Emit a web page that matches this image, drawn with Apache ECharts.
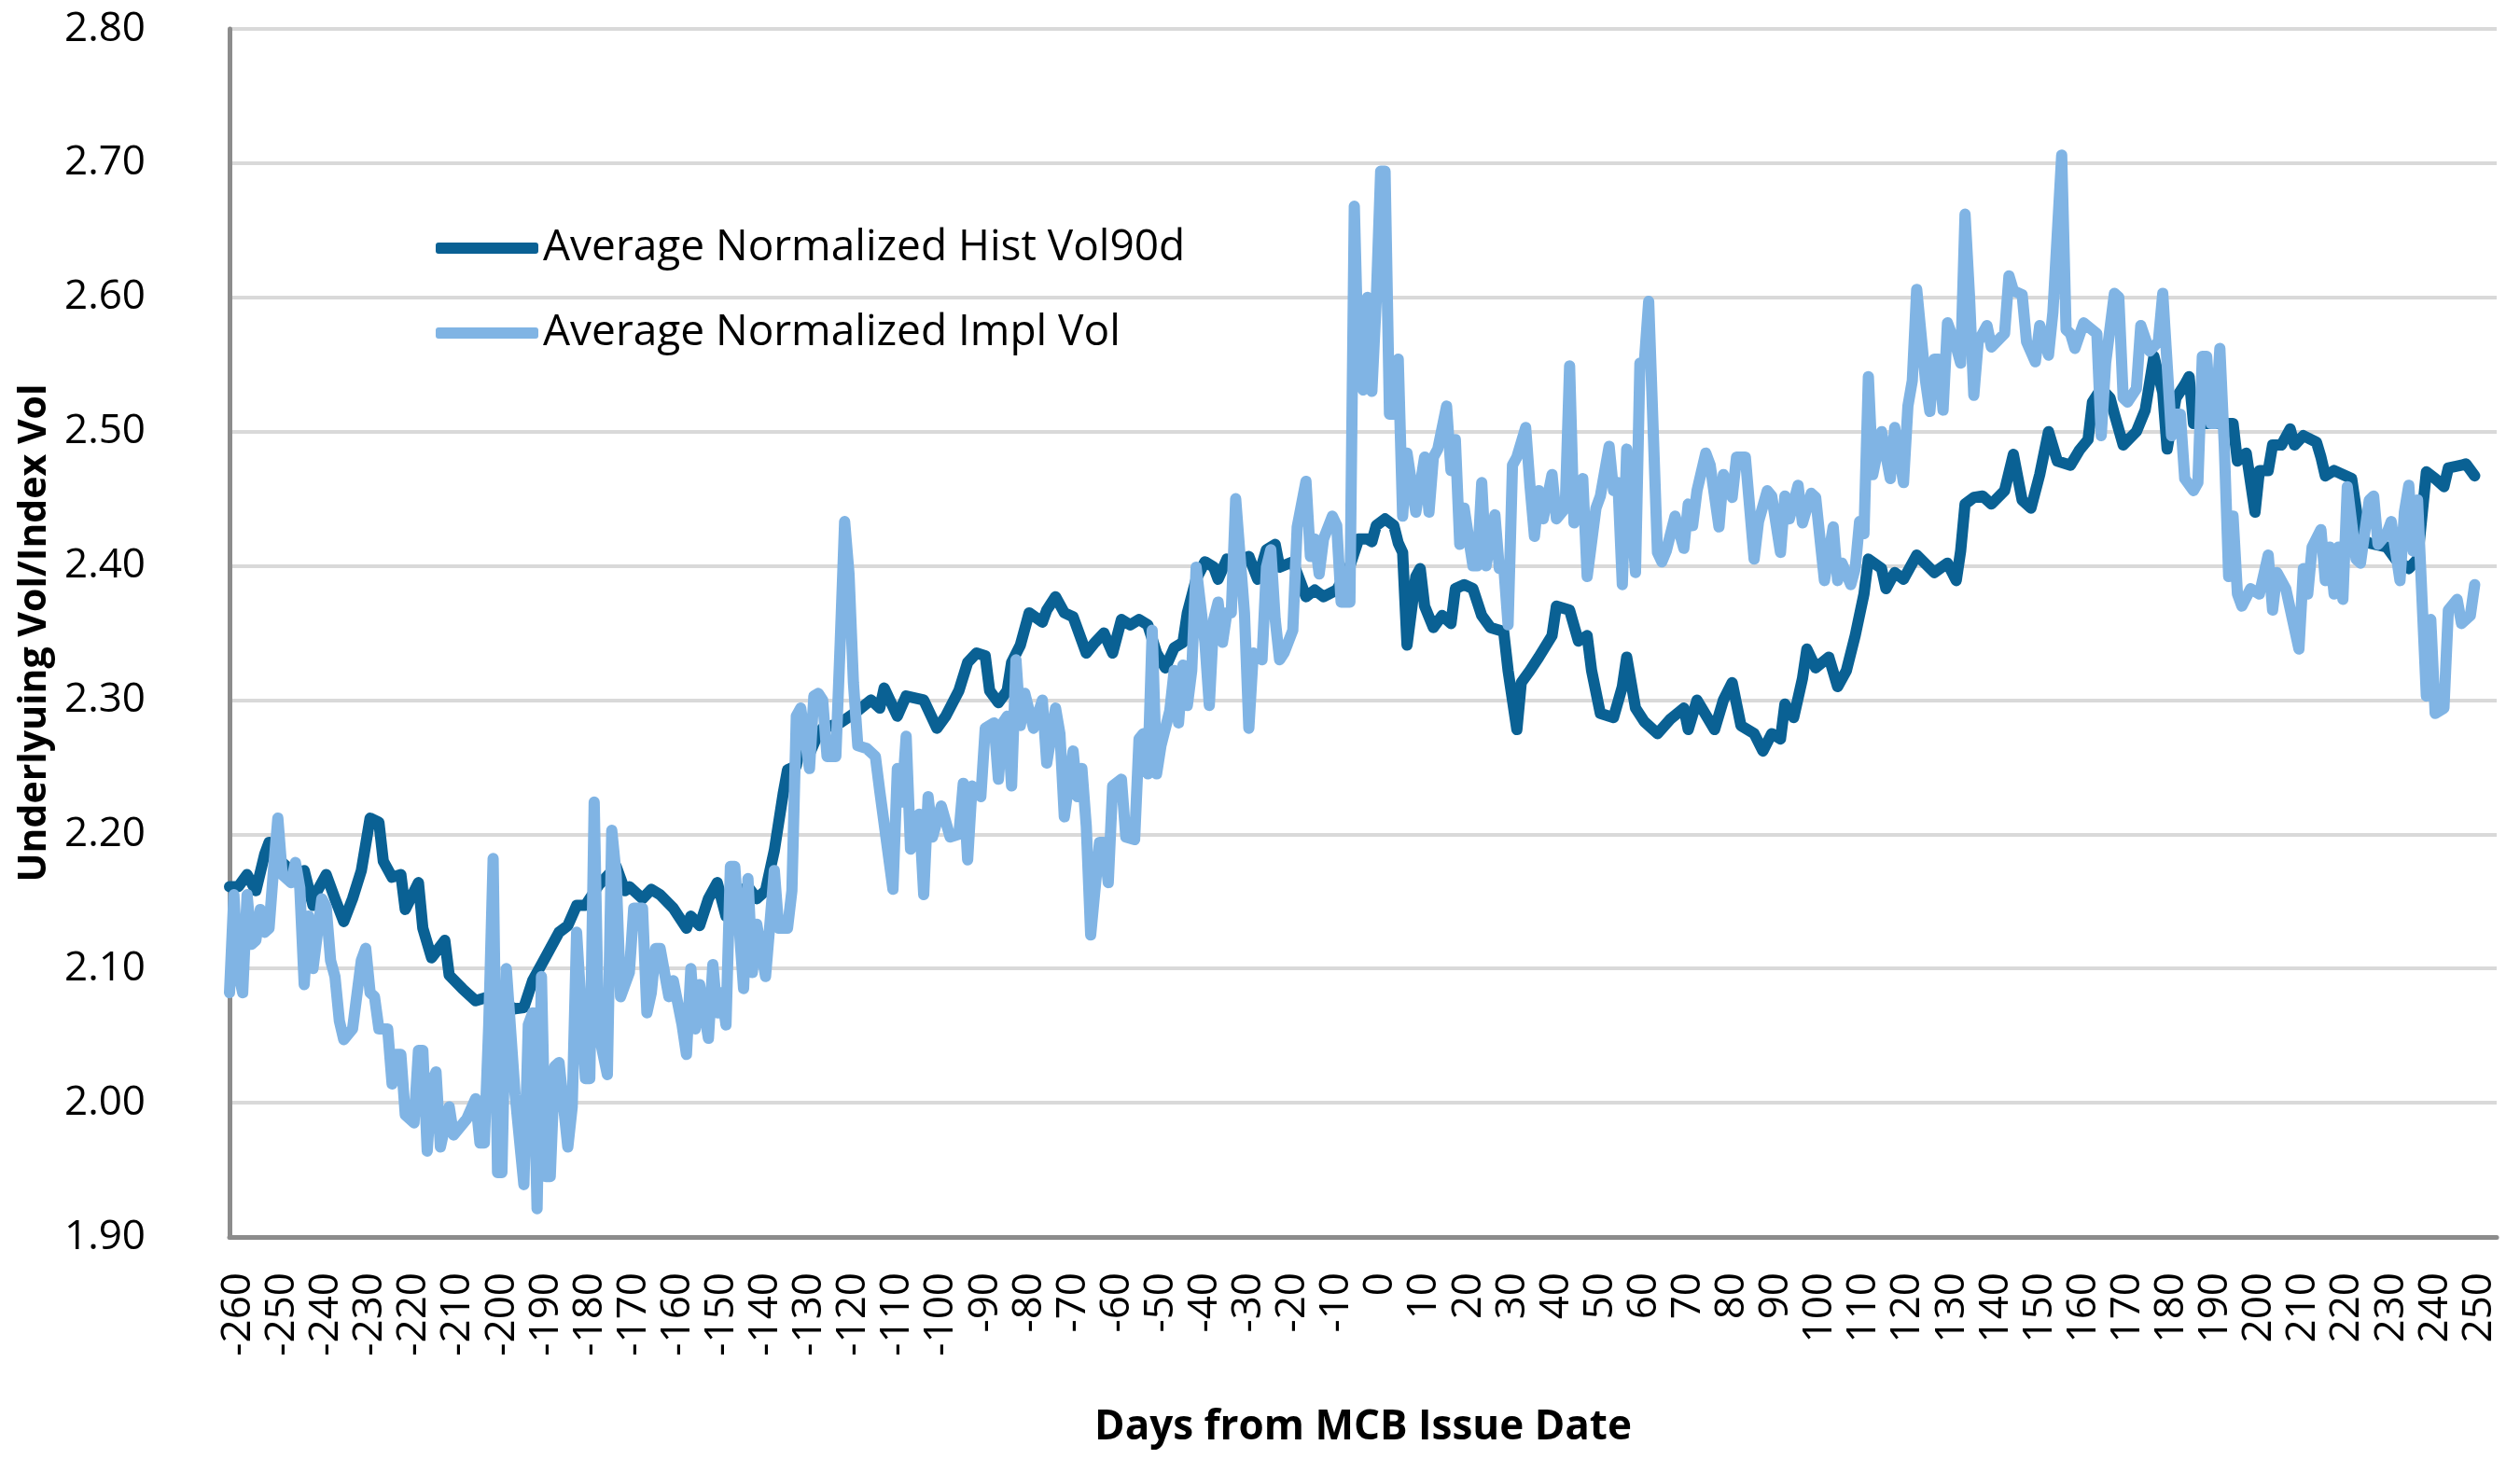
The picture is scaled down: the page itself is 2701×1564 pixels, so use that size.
<!DOCTYPE html>
<html>
<head>
<meta charset="utf-8">
<script src="https://cdn.jsdelivr.net/npm/echarts@6/dist/echarts.min.js"></script>
<style>
html,body{margin:0;padding:0;background:#fff;}
#chart{width:2701px;height:1564px;}
</style>
</head>
<body>
<div id="chart"></div>
<script>
// Days from MCB issue date and values
var histDays = [-262,-260,-258,-256,-254,-253,-250,-247,-245,-243,-242,-240,-238,-236,-234,-232,-230,-228,-227,-225,-223,-222,-219,-218,-216,-213,-212,-209,-206,-203,-197,-195,-193,-190,-187,-185,-183,-181,-178,-174,-172,-171,-168,-166,-164,-161,-158,-157,-155,-153,-151,-149,-147,-144,-142,-140,-138,-136,-135,-133,-132,-130,-128,-127,-123,-119,-116,-114,-113,-110,-108,-104,-101,-99,-96,-94,-92,-90,-89,-87,-85,-84,-82,-80,-77,-76,-74,-72,-70,-67,-65,-63,-61,-59,-57,-55,-53,-51,-49,-47,-45,-44,-42,-40,-38,-37,-35,-32,-30,-28,-26,-24,-23,-20,-17,-15,-13,-10,-7,-5,-3,-2,-1,1,3,4,5,6,8,9,10,12,14,16,17,19,21,23,25,28,29,31,32,34,36,39,40,43,45,47,48,50,53,55,56,58,60,63,66,69,70,72,76,78,80,82,85,87,89,91,92,94,96,97,99,102,104,106,108,110,111,114,115,117,119,122,126,129,131,132,133,135,137,139,142,144,146,148,150,152,154,157,159,161,162,164,166,167,169,172,174,176,178,179,181,183,184,185,188,191,194,195,197,199,200,202,203,205,207,208,210,213,214,215,217,219,221,223,225,229,231,234,236,238,240,242,243,246,247,249];
var histVals = [2.161,2.161,2.170,2.158,2.185,2.194,2.179,2.170,2.173,2.147,2.158,2.170,2.152,2.135,2.152,2.173,2.212,2.209,2.180,2.168,2.170,2.144,2.164,2.130,2.108,2.121,2.095,2.085,2.076,2.079,2.070,2.071,2.091,2.109,2.127,2.132,2.147,2.147,2.162,2.176,2.158,2.161,2.152,2.159,2.155,2.145,2.130,2.139,2.132,2.152,2.164,2.139,2.155,2.161,2.152,2.158,2.188,2.230,2.248,2.251,2.270,2.260,2.275,2.279,2.283,2.292,2.300,2.294,2.309,2.288,2.303,2.300,2.279,2.288,2.307,2.328,2.335,2.333,2.307,2.298,2.307,2.328,2.341,2.365,2.358,2.367,2.377,2.365,2.362,2.335,2.343,2.350,2.335,2.360,2.356,2.360,2.356,2.335,2.324,2.339,2.343,2.365,2.390,2.403,2.399,2.390,2.405,2.403,2.407,2.390,2.412,2.416,2.399,2.403,2.377,2.382,2.377,2.382,2.400,2.420,2.420,2.418,2.430,2.435,2.430,2.417,2.410,2.341,2.392,2.398,2.370,2.354,2.363,2.357,2.383,2.386,2.383,2.363,2.354,2.351,2.322,2.278,2.313,2.322,2.332,2.348,2.370,2.367,2.344,2.348,2.322,2.290,2.287,2.310,2.332,2.294,2.284,2.275,2.286,2.294,2.278,2.300,2.278,2.300,2.313,2.281,2.275,2.262,2.275,2.271,2.297,2.287,2.316,2.338,2.324,2.332,2.310,2.322,2.348,2.379,2.405,2.398,2.383,2.395,2.390,2.408,2.395,2.402,2.389,2.411,2.446,2.451,2.452,2.446,2.456,2.483,2.449,2.443,2.468,2.500,2.478,2.475,2.486,2.494,2.522,2.532,2.525,2.513,2.490,2.500,2.516,2.556,2.529,2.487,2.525,2.535,2.541,2.506,2.506,2.506,2.506,2.478,2.484,2.440,2.471,2.471,2.490,2.490,2.502,2.490,2.497,2.492,2.481,2.467,2.471,2.468,2.465,2.421,2.417,2.414,2.405,2.398,2.405,2.470,2.465,2.459,2.473,2.475,2.476,2.467];

var implDays = [-262,-261,-260,-259,-258,-257,-256,-255,-254,-253,-252,-251,-250,-248,-247,-246,-245,-244,-243,-241,-240,-239,-238,-237,-236,-234,-232,-231,-230,-229,-228,-226,-225,-224,-223,-222,-220,-219,-218,-217,-216,-215,-214,-212,-211,-210,-208,-206,-205,-204,-203,-202,-201,-200,-199,-197,-195,-194,-193,-192,-191,-190,-189,-188,-187,-185,-184,-183,-181,-180,-179,-178,-176,-175,-174,-173,-171,-170,-168,-167,-166,-165,-164,-162,-161,-159,-158,-157,-156,-155,-153,-152,-151,-150,-149,-148,-147,-145,-144,-143,-142,-140,-138,-137,-135,-134,-133,-132,-130,-129,-128,-127,-126,-124,-123,-122,-121,-120,-119,-117,-115,-114,-111,-110,-109,-108,-107,-105,-104,-103,-102,-100,-98,-96,-95,-94,-93,-91,-90,-88,-87,-86,-85,-84,-83,-82,-81,-79,-77,-76,-74,-73,-72,-70,-69,-68,-67,-66,-64,-63,-62,-61,-59,-58,-56,-55,-54,-53,-52,-51,-50,-48,-47,-46,-45,-44,-43,-42,-40,-39,-38,-37,-36,-35,-34,-33,-31,-30,-29,-27,-26,-25,-24,-23,-22,-20,-19,-17,-16,-15,-14,-13,-11,-10,-9,-8,-7,-6,-5,-4,-3,-2,-1,0,1,2,3,4,5,6,8,10,11,12,13,15,16,17,18,19,21,22,23,24,26,27,28,29,30,31,33,34,35,36,37,39,40,42,43,44,46,47,49,50,52,53,54,55,56,58,59,60,61,63,64,65,67,69,70,71,72,74,75,77,78,80,81,83,85,86,88,89,91,92,93,95,96,98,99,101,103,104,105,107,108,109,110,111,112,114,116,117,119,120,121,122,124,125,126,127,128,129,131,132,133,134,135,136,138,139,142,143,144,146,147,149,150,152,153,155,156,157,158,160,163,164,165,167,168,169,170,172,173,175,177,178,180,181,182,183,185,186,187,188,189,190,191,192,193,194,195,196,198,200,202,203,204,206,209,210,211,212,214,215,216,217,218,219,220,222,223,225,226,227,229,230,232,233,234,235,236,238,239,240,242,243,245,246,248,249];
var implVals = [2.082,2.155,2.097,2.082,2.155,2.118,2.121,2.144,2.127,2.130,2.173,2.212,2.170,2.164,2.179,2.160,2.088,2.139,2.100,2.152,2.146,2.106,2.094,2.061,2.047,2.055,2.106,2.115,2.082,2.079,2.055,2.055,2.014,2.036,2.036,1.991,1.985,2.039,2.039,1.964,2.015,2.023,1.967,1.997,1.976,1.980,1.988,2.003,1.970,1.970,2.058,2.182,1.948,1.948,2.100,2.006,1.939,2.058,2.067,1.921,2.094,1.945,1.945,2.027,2.030,1.967,1.997,2.127,2.018,2.018,2.224,2.052,2.021,2.203,2.170,2.079,2.097,2.145,2.145,2.067,2.082,2.115,2.115,2.079,2.091,2.058,2.036,2.100,2.055,2.088,2.048,2.103,2.067,2.082,2.058,2.176,2.176,2.085,2.167,2.097,2.133,2.094,2.173,2.130,2.130,2.158,2.288,2.294,2.249,2.303,2.305,2.300,2.258,2.258,2.343,2.433,2.394,2.313,2.266,2.264,2.258,2.232,2.159,2.249,2.224,2.273,2.189,2.215,2.155,2.228,2.198,2.221,2.198,2.200,2.238,2.181,2.236,2.228,2.279,2.283,2.241,2.283,2.288,2.236,2.330,2.281,2.305,2.279,2.300,2.253,2.294,2.275,2.213,2.262,2.228,2.249,2.206,2.125,2.194,2.194,2.164,2.236,2.241,2.198,2.196,2.271,2.275,2.245,2.352,2.245,2.266,2.292,2.322,2.283,2.326,2.296,2.322,2.399,2.343,2.296,2.360,2.373,2.343,2.365,2.365,2.450,2.365,2.279,2.335,2.330,2.399,2.412,2.360,2.330,2.335,2.352,2.429,2.463,2.407,2.420,2.394,2.420,2.437,2.430,2.373,2.373,2.373,2.668,2.540,2.531,2.600,2.530,2.598,2.694,2.694,2.513,2.513,2.554,2.437,2.484,2.440,2.481,2.440,2.481,2.487,2.519,2.471,2.494,2.416,2.443,2.400,2.400,2.462,2.400,2.438,2.398,2.400,2.356,2.475,2.481,2.503,2.459,2.422,2.456,2.435,2.468,2.435,2.443,2.549,2.432,2.465,2.392,2.443,2.452,2.489,2.456,2.462,2.386,2.487,2.395,2.551,2.551,2.597,2.410,2.403,2.411,2.437,2.413,2.446,2.430,2.456,2.484,2.475,2.429,2.468,2.451,2.481,2.481,2.405,2.433,2.456,2.452,2.410,2.452,2.435,2.460,2.432,2.454,2.451,2.389,2.429,2.389,2.402,2.386,2.398,2.433,2.424,2.541,2.468,2.500,2.465,2.503,2.462,2.519,2.538,2.606,2.538,2.515,2.554,2.554,2.516,2.581,2.563,2.551,2.662,2.602,2.527,2.567,2.579,2.563,2.573,2.616,2.605,2.602,2.567,2.552,2.579,2.557,2.589,2.706,2.576,2.573,2.562,2.581,2.573,2.497,2.551,2.603,2.600,2.525,2.522,2.532,2.579,2.560,2.567,2.603,2.497,2.513,2.513,2.465,2.456,2.462,2.556,2.556,2.506,2.506,2.562,2.490,2.392,2.437,2.379,2.370,2.383,2.379,2.408,2.367,2.395,2.383,2.338,2.398,2.379,2.414,2.427,2.389,2.414,2.379,2.414,2.375,2.459,2.405,2.402,2.449,2.452,2.416,2.424,2.433,2.389,2.440,2.460,2.411,2.449,2.303,2.360,2.290,2.294,2.367,2.375,2.357,2.363,2.386];

var yTicks = ['1.90','2.00','2.10','2.20','2.30','2.40','2.50','2.60','2.70','2.80'];
var seriesNames = ['Average Normalized Hist Vol90d', 'Average Normalized Impl Vol'];

function zip(xs, ys) { return xs.map(function (d, i) { return [d, ys[i]]; }); }

var FONT = '"Open Sans", "Noto Sans", sans-serif';
var chart = echarts.init(document.getElementById('chart'), null, {renderer: 'canvas'});
chart.setOption({
  animation: false,
  backgroundColor: '#ffffff',
  grid: {left: 246, right: 25, top: 31, bottom: 238, containLabel: false},
  legend: {
    orient: 'vertical', left: 462, top: 236, itemGap: 41,
    itemWidth: 110, itemHeight: 12, icon: 'roundRect',
    textStyle: {fontFamily: FONT, fontSize: 46, color: '#000', lineHeight: 50},
    data: seriesNames
  },
  xAxis: {
    type: 'value', min: -262, max: 254, interval: 2,
    name: 'Days from MCB Issue Date', nameLocation: 'middle', nameGap: 182,
    nameTextStyle: {fontFamily: FONT, fontSize: 44, fontWeight: 'bold', color: '#000'},
    axisLine: {show: true, onZero: false, lineStyle: {color: '#8c8c8c', width: 5}},
    axisTick: {show: false},
    splitLine: {show: false},
    axisLabel: {
      rotate: 90, margin: 38, fontFamily: FONT, fontSize: 44, color: '#000',
      formatter: function (v) { return (Math.round(v) % 10 === 0) ? String(Math.round(v)) : ''; }
    }
  },
  yAxis: {
    type: 'value', min: 1.9, max: 2.8, interval: 0.1,
    name: 'Underlyuing Vol/Index Vol', nameLocation: 'middle', nameGap: 182,
    nameTextStyle: {fontFamily: FONT, fontSize: 41, fontWeight: 'bold', color: '#000'},
    axisLine: {show: true, onZero: false, lineStyle: {color: '#8c8c8c', width: 5}},
    axisTick: {show: false},
    splitLine: {show: true, lineStyle: {color: '#d9d9d9', width: 4}},
    axisLabel: {
      margin: 90, fontFamily: FONT, fontSize: 44, color: '#000',
      formatter: function (v) { var i = Math.round((v - 1.9) * 10); return yTicks[i] !== undefined ? yTicks[i] : v.toFixed(2); }
    }
  },
  series: [
    {
      name: seriesNames[0], type: 'line', data: zip(histDays, histVals),
      showSymbol: false, symbol: 'none', z: 3,
      lineStyle: {color: '#0a6194', width: 12, join: 'round', cap: 'round'},
      itemStyle: {color: '#0a6194'}
    },
    {
      name: seriesNames[1], type: 'line', data: zip(implDays, implVals),
      showSymbol: false, symbol: 'none', z: 4,
      lineStyle: {color: '#80b4e4', width: 12, join: 'round', cap: 'round'},
      itemStyle: {color: '#80b4e4'}
    }
  ]
});
</script>
</body>
</html>
